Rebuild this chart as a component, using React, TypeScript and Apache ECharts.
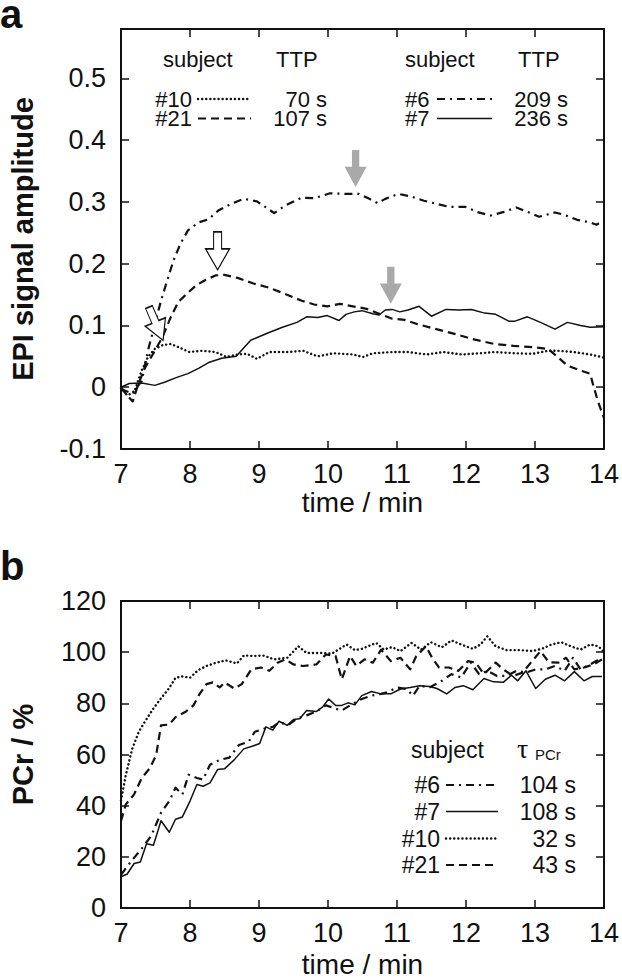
import React, { useEffect, useRef } from 'react';
import * as echarts from 'echarts';

// ---------- data: EPI signal amplitude (panel a) ----------
const epi6T = [7.0, 7.16, 7.3, 7.39, 7.49, 7.58, 7.67, 7.76, 7.86, 7.97, 8.13, 8.27, 8.41, 8.6, 8.78, 8.97, 9.13, 9.22, 9.38, 9.62, 9.8, 10.03, 10.26, 10.45, 10.6, 10.72, 10.83, 11.02, 11.2, 11.39, 11.57, 11.76, 11.99, 12.18, 12.36, 12.55, 12.73, 12.89, 13.06, 13.29, 13.43, 13.61, 13.8, 13.89, 14.0];
const epi6V = [-0.003, -0.01, 0.01, 0.059, 0.102, 0.14, 0.173, 0.205, 0.232, 0.254, 0.267, 0.272, 0.286, 0.297, 0.305, 0.301, 0.289, 0.282, 0.294, 0.307, 0.306, 0.314, 0.313, 0.313, 0.305, 0.298, 0.305, 0.313, 0.309, 0.302, 0.297, 0.292, 0.292, 0.283, 0.278, 0.284, 0.291, 0.284, 0.276, 0.283, 0.279, 0.271, 0.267, 0.263, 0.27];

const epi21T = [7.0, 7.08, 7.17, 7.25, 7.35, 7.49, 7.6, 7.72, 7.83, 7.95, 8.09, 8.23, 8.37, 8.5, 8.69, 8.92, 9.15, 9.38, 9.62, 9.8, 9.99, 10.17, 10.36, 10.56, 10.74, 10.93, 11.11, 11.3, 11.57, 11.85, 12.13, 12.41, 12.69, 12.96, 13.19, 13.33, 13.47, 13.66, 13.8, 13.84, 13.91, 14.0];
const epi21V = [0.0, -0.012, -0.023, 0.005, 0.032, 0.059, 0.081, 0.113, 0.138, 0.151, 0.165, 0.174, 0.181, 0.182, 0.177, 0.168, 0.161, 0.151, 0.14, 0.134, 0.131, 0.135, 0.131, 0.127, 0.119, 0.111, 0.109, 0.102, 0.094, 0.086, 0.077, 0.07, 0.067, 0.065, 0.062, 0.049, 0.035, 0.027, 0.022, 0.005, -0.022, -0.05];

const epi10T = [7.0, 7.09, 7.19, 7.3, 7.39, 7.49, 7.6, 7.72, 7.83, 7.99, 8.18, 8.37, 8.53, 8.69, 8.83, 8.97, 9.15, 9.43, 9.64, 9.85, 10.08, 10.36, 10.51, 10.65, 10.93, 11.16, 11.43, 11.67, 11.94, 12.22, 12.41, 12.69, 12.96, 13.19, 13.33, 13.56, 13.8, 14.0];
const epi10V = [-0.001, -0.013, -0.008, 0.027, 0.049, 0.062, 0.068, 0.07, 0.065, 0.057, 0.059, 0.057, 0.049, 0.053, 0.054, 0.046, 0.057, 0.057, 0.059, 0.05, 0.055, 0.053, 0.049, 0.055, 0.057, 0.057, 0.053, 0.057, 0.053, 0.055, 0.057, 0.055, 0.054, 0.059, 0.059, 0.057, 0.053, 0.048];

const epi7T = [7.0, 7.12, 7.3, 7.49, 7.63, 7.81, 7.97, 8.13, 8.27, 8.46, 8.67, 8.88, 9.11, 9.34, 9.55, 9.69, 9.85, 9.99, 10.16, 10.26, 10.38, 10.49, 10.65, 10.74, 10.83, 10.93, 11.04, 11.16, 11.32, 11.5, 11.71, 11.9, 12.08, 12.27, 12.43, 12.62, 12.71, 12.89, 13.08, 13.29, 13.47, 13.66, 13.8, 14.0];
const epi7V = [0.0, 0.006, 0.007, 0.003, 0.008, 0.016, 0.022, 0.031, 0.04, 0.047, 0.05, 0.076, 0.087, 0.097, 0.105, 0.114, 0.113, 0.116, 0.108, 0.118, 0.122, 0.124, 0.119, 0.117, 0.125, 0.126, 0.122, 0.125, 0.131, 0.115, 0.126, 0.125, 0.126, 0.12, 0.118, 0.107, 0.107, 0.114, 0.105, 0.094, 0.105, 0.1, 0.097, 0.098];

// ---------- data: PCr recovery (panel b) ----------
const pcr10T = [7.0, 7.07, 7.16, 7.26, 7.35, 7.47, 7.58, 7.7, 7.79, 7.89, 8.0, 8.12, 8.24, 8.38, 8.52, 8.68, 8.78, 8.94, 9.06, 9.22, 9.41, 9.57, 9.69, 9.87, 10.06, 10.27, 10.39, 10.49, 10.58, 10.7, 10.81, 10.93, 11.05, 11.21, 11.35, 11.49, 11.65, 11.79, 11.93, 12.1, 12.21, 12.31, 12.43, 12.59, 12.78, 12.96, 13.1, 13.24, 13.38, 13.52, 13.66, 13.8, 13.92, 14.0];
const pcr10V = [42, 52, 62, 69, 73, 78, 82, 86, 90, 90.5, 90, 93, 94.6, 95.9, 96.8, 95.6, 98.7, 98.5, 98.7, 97.2, 97.8, 102.3, 99.7, 99.7, 99.5, 103, 100.8, 101.3, 102.3, 103.6, 101, 102, 100.4, 103.6, 101, 103.9, 101.9, 104.6, 103, 101.3, 103, 106.2, 102.3, 100.8, 100.8, 100.4, 101.3, 103, 103.9, 102.3, 101, 103, 102.3, 100];

const pcr21T = [7.0, 7.07, 7.19, 7.3, 7.42, 7.51, 7.58, 7.7, 7.79, 7.93, 8.05, 8.14, 8.24, 8.33, 8.43, 8.5, 8.64, 8.75, 8.89, 9.03, 9.15, 9.27, 9.38, 9.5, 9.64, 9.83, 9.97, 10.11, 10.2, 10.32, 10.41, 10.53, 10.65, 10.77, 10.91, 11.05, 11.19, 11.28, 11.42, 11.51, 11.61, 11.75, 11.89, 12.03, 12.14, 12.26, 12.43, 12.54, 12.68, 12.82, 12.94, 13.08, 13.2, 13.34, 13.45, 13.57, 13.71, 13.85, 13.97];
const pcr21V = [34, 40.5, 44.4, 50.8, 54.7, 59.8, 71.4, 71.7, 74.6, 76.6, 79.2, 83.7, 87.5, 88.2, 86.2, 88.2, 85.8, 87.5, 93.3, 94, 92.7, 95.9, 97.2, 95.2, 94.6, 95.2, 99.1, 98.5, 89.4, 98.5, 94.6, 97.2, 95.9, 101, 96.5, 97.8, 93.3, 98.5, 102.3, 97.8, 94, 94, 92.7, 96.5, 95.9, 91.4, 95.9, 93.3, 90.7, 92, 95.9, 100.4, 96.1, 95.9, 97.8, 93.3, 94, 95.2, 97.2];

const pcr6T = [7.0, 7.16, 7.3, 7.44, 7.58, 7.7, 7.79, 7.89, 7.98, 8.1, 8.19, 8.29, 8.43, 8.57, 8.71, 8.85, 8.94, 9.08, 9.2, 9.29, 9.43, 9.55, 9.69, 9.83, 9.97, 10.11, 10.2, 10.32, 10.49, 10.63, 10.77, 10.86, 11.0, 11.14, 11.23, 11.33, 11.47, 11.65, 11.79, 11.93, 12.07, 12.19, 12.31, 12.45, 12.59, 12.73, 12.87, 13.01, 13.15, 13.29, 13.43, 13.55, 13.66, 13.8, 13.97];
const pcr6V = [13, 18.7, 23.2, 28.3, 37.3, 41.8, 47, 44.4, 52.1, 50.8, 50.2, 56, 57.9, 58.8, 63.7, 65, 68.9, 70.1, 70.8, 72.5, 71.7, 74, 75.3, 76.8, 79.2, 77.9, 77.2, 79.2, 81.7, 83, 83.7, 84.3, 86.2, 85.6, 83, 86.9, 86.2, 88.8, 91.4, 90.1, 95.9, 91.4, 92.7, 90.7, 90.7, 92.7, 92, 93.3, 93.3, 94.6, 92.7, 97.8, 93.3, 95.2, 97.8];

const pcr7T = [7.0, 7.09, 7.19, 7.28, 7.37, 7.47, 7.58, 7.7, 7.79, 7.89, 8.0, 8.1, 8.19, 8.29, 8.4, 8.5, 8.64, 8.78, 8.89, 9.01, 9.1, 9.2, 9.29, 9.41, 9.5, 9.59, 9.69, 9.83, 9.92, 10.01, 10.11, 10.2, 10.29, 10.39, 10.49, 10.63, 10.77, 10.91, 11.05, 11.19, 11.33, 11.47, 11.58, 11.72, 11.84, 11.96, 12.1, 12.26, 12.4, 12.54, 12.66, 12.75, 12.87, 13.01, 13.15, 13.29, 13.43, 13.57, 13.71, 13.83, 13.97];
const pcr7V = [12.2, 13.3, 17.4, 18, 25.1, 24.5, 34.1, 29.6, 34.7, 35.6, 41.8, 48.3, 47.6, 48.9, 54.1, 54.4, 57.9, 62.2, 63.1, 64.3, 70.8, 69.5, 73, 71.4, 73.7, 74, 77.2, 76.8, 78.5, 81.7, 79.2, 79.2, 80.2, 79.4, 83, 84.6, 83.7, 83.7, 85.6, 86.2, 86.9, 86.6, 85.8, 83.7, 86.2, 86.9, 85.3, 89.7, 88.4, 88.2, 91, 88.8, 92.7, 85.8, 89.4, 91, 88.8, 92.4, 88.8, 90.5, 90.5];

// ---------- axes ----------
const timeMin = 7;
const timeMax = 14;
const timeStep = 1;
const epiMin = -0.1;
const epiMax = 0.58;
const epiStep = 0.1;
const pcrMin = 0;
const pcrMax = 120;
const pcrStep = 20;

// ---------- annotations (arrows, data coordinates) ----------
const openArrowT = [7.61, 8.4];
const openArrowV = [0.076, 0.19];
const openArrowTilt = [23, 0];
const grayArrowT = [10.4, 10.91];
const grayArrowV = [0.324, 0.135];

// ---------- legend texts ----------
const epiLegendSubjects = ['#10', '#21', '#6', '#7'];
const epiLegendTTP = ['70 s', '107 s', '209 s', '236 s'];
const pcrLegendSubjects = ['#6', '#7', '#10', '#21'];
const pcrLegendTau = ['104 s', '108 s', '32 s', '43 s'];

const INK = '#111111';
const FONT = '"Liberation Sans", Arial, Helvetica, sans-serif';

type LS = { width: number; dash: number[] | 'solid'; cap: 'round' | 'butt' };
const STYLE: Record<string, LS> = {
  '#10': { width: 2.4, dash: [0.1, 4], cap: 'round' },
  '#21': { width: 2.2, dash: [8, 5], cap: 'butt' },
  '#6': { width: 2.2, dash: [8, 5, 2, 5], cap: 'butt' },
  '#7': { width: 1.5, dash: 'solid', cap: 'butt' },
};

const zip = (t: number[], v: number[]) => t.map((x, i) => [x, v[i]]);

const ARROW_PATH = 'path://M8,0L16,0L16,17L24,17L12,38L0,17L8,17Z';

function arrowMark(t: number, v: number, open: boolean, tilt: number, w: number, h: number) {
  const r = (tilt * Math.PI) / 180;
  const half = h / 2;
  return {
    coord: [t, v],
    symbol: ARROW_PATH,
    symbolSize: [w, h],
    symbolRotate: tilt,
    symbolOffset: [-half * Math.sin(r), -half * Math.cos(r)],
    itemStyle: open
      ? { color: '#ffffff', borderColor: INK, borderWidth: 1.3 }
      : { color: '#a9a9a9', borderWidth: 0 },
    label: { show: false },
  };
}

function line(id: string, t: number[], v: number[], xi: number, yi: number, marks?: any[]) {
  const s = STYLE[id];
  return {
    type: 'line',
    name: id,
    xAxisIndex: xi,
    yAxisIndex: yi,
    data: zip(t, v),
    symbol: 'none',
    showSymbol: false,
    silent: true,
    z: 3,
    lineStyle: { color: INK, width: s.width, type: s.dash, cap: s.cap, join: 'round' },
    markPoint: marks
      ? { silent: true, z: 10, label: { show: false }, data: marks }
      : undefined,
  };
}

function xAxes(gridIndex: number, nameGap: number) {
  const base: any = {
    gridIndex,
    type: 'value',
    min: timeMin,
    max: timeMax,
    interval: timeStep,
    splitLine: { show: false },
    axisLine: { show: true, onZero: false, lineStyle: { color: INK, width: 2 } },
    axisTick: { show: true, inside: true, length: 8, lineStyle: { color: INK, width: 1.5 } },
  };
  return [
    {
      ...base,
      position: 'bottom',
      axisLabel: { show: true, fontSize: 27, margin: 11, color: INK, fontFamily: FONT },
      name: 'time / min',
      nameLocation: 'middle',
      nameGap,
      nameTextStyle: { fontSize: 28, color: INK, fontFamily: FONT },
    },
    { ...base, position: 'top', axisLabel: { show: false } },
  ];
}

function yAxes(gridIndex: number, min: number, max: number, step: number, name: string) {
  const base: any = {
    gridIndex,
    type: 'value',
    min,
    max,
    interval: step,
    splitLine: { show: false },
    axisLine: { show: true, onZero: false, lineStyle: { color: INK, width: 2 } },
    axisTick: { show: true, inside: true, length: 8, lineStyle: { color: INK, width: 1.5 } },
  };
  return [
    {
      ...base,
      position: 'left',
      axisLabel: { show: true, fontSize: 27, margin: 15, color: INK, fontFamily: FONT, showMaxLabel: max === 120 },
      name,
      nameLocation: 'middle',
      nameGap: 84,
      nameRotate: 90,
      nameTextStyle: { fontSize: 29, fontWeight: 'bold', color: INK, fontFamily: FONT },
    },
    { ...base, position: 'right', axisLabel: { show: false } },
  ];
}

function txt(text: string, x: number, y: number, size: number, align: string, extra: any = {}) {
  return {
    type: 'text',
    x,
    y,
    silent: true,
    style: {
      text,
      x: 0,
      y: 0,
      fill: INK,
      fontSize: size,
      fontFamily: FONT,
      align,
      textAlign: align,
      verticalAlign: 'middle',
      textVerticalAlign: 'middle',
      ...extra,
    },
  };
}

function sample(id: string, x1: number, x2: number, y: number) {
  const s = STYLE[id];
  return {
    type: 'line',
    silent: true,
    shape: { x1, y1: y, x2, y2: y },
    style: {
      stroke: INK,
      lineWidth: s.width,
      lineDash: s.dash === 'solid' ? null : s.dash,
      lineCap: s.cap,
    },
  };
}

function buildGraphics() {
  const g: any[] = [];
  // panel letters
  g.push(txt('a', 0, 14, 40, 'left', { fontWeight: 'bold', lineHeight: 28 }));
  g.push(txt('b', 0, 566, 40, 'left', { fontWeight: 'bold' }));

  // panel a legend
  const lh = { lineHeight: 17 };
  g.push(txt('subject', 163, 59, 22, 'left', lh));
  g.push(txt('TTP', 276, 59, 22, 'left', lh));
  g.push(txt('subject', 405, 59, 22, 'left', lh));
  g.push(txt('TTP', 518, 59, 22, 'left', lh));
  const rowsA = [99, 118.5];
  for (let i = 0; i < 2; i++) {
    const id = epiLegendSubjects[i];
    g.push(txt(id, 192, rowsA[i], 22, 'right', lh));
    g.push(sample(id, 198, 251, rowsA[i]));
    g.push(txt(epiLegendTTP[i], 327, rowsA[i], 22, 'right', lh));
  }
  for (let i = 2; i < 4; i++) {
    const id = epiLegendSubjects[i];
    const y = rowsA[i - 2];
    g.push(txt(id, 405, y, 22, 'left', lh));
    g.push(sample(id, 437, 492, y));
    g.push(txt(epiLegendTTP[i], 568, y, 22, 'right', lh));
  }

  // panel b legend
  g.push(txt('subject', 411, 750, 23, 'left'));
  g.push(txt('τ', 517, 748, 28, 'left', { fontFamily: '"Liberation Serif", "DejaVu Serif", serif' }));
  g.push(txt('PCr', 535, 754, 15, 'left'));
  const rowsB = [785, 811.5, 838.5, 865];
  for (let i = 0; i < 4; i++) {
    const id = pcrLegendSubjects[i];
    g.push(txt(id, 440, rowsB[i], 23, 'right'));
    g.push(sample(id, 446, 498, rowsB[i]));
    g.push(txt(pcrLegendTau[i], 576, rowsB[i], 23, 'right'));
  }
  return g;
}

function buildOption() {
  const openMarks = openArrowT.map((t, i) => arrowMark(t, openArrowV[i], true, openArrowTilt[i], i === 0 ? 22 : 24, i === 0 ? 36 : 38));
  const grayMarks = grayArrowT.map((t, i) => arrowMark(t, grayArrowV[i], false, 0, 22, 37));
  return {
    animation: false,
    backgroundColor: '#ffffff',
    textStyle: { fontFamily: FONT },
    grid: [
      { left: 110, top: 29, width: 500, height: 420 },
      { left: 110, top: 601, width: 500, height: 311 },
    ],
    xAxis: [...xAxes(0, 39), ...xAxes(1, 42)],
    yAxis: [
      ...yAxes(0, epiMin, epiMax, epiStep, 'EPI signal amplitude'),
      ...yAxes(1, pcrMin, pcrMax, pcrStep, 'PCr / %'),
    ],
    series: [
      line('#10', epi10T, epi10V, 0, 0, [openMarks[0]]),
      line('#21', epi21T, epi21V, 0, 0, [openMarks[1]]),
      line('#6', epi6T, epi6V, 0, 0, [grayMarks[0]]),
      line('#7', epi7T, epi7V, 0, 0, [grayMarks[1]]),
      line('#6', pcr6T, pcr6V, 2, 2),
      line('#7', pcr7T, pcr7V, 2, 2),
      line('#10', pcr10T, pcr10V, 2, 2),
      line('#21', pcr21T, pcr21V, 2, 2),
    ],
    graphic: buildGraphics(),
  };
}

export default function App() {
  const ref = useRef<HTMLDivElement>(null);
  useEffect(() => {
    if (!ref.current) return;
    const chart = echarts.init(ref.current, null, { renderer: 'svg' });
    chart.setOption(buildOption() as any);
    return () => chart.dispose();
  }, []);
  return (
    <div
      ref={ref}
      style={{ position: 'absolute', left: 0, top: 0, width: 622, height: 979, background: '#fff' }}
    />
  );
}
